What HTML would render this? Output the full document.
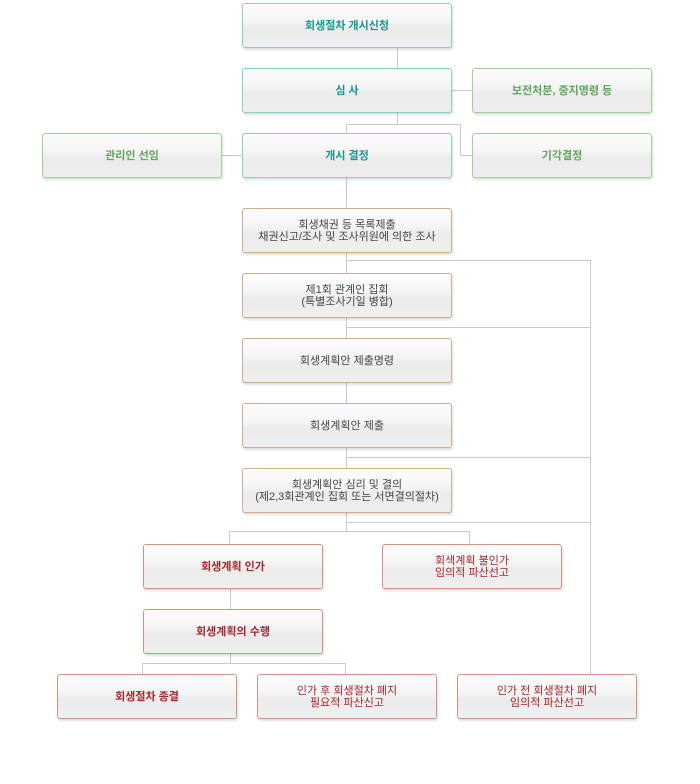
<!DOCTYPE html>
<html><head><meta charset="utf-8">
<style>
html,body{margin:0;padding:0;background:#fff;}
body{width:700px;height:784px;position:relative;overflow:hidden;font-family:"Liberation Sans","Noto Sans CJK KR","NanumGothic",sans-serif;}
.b{position:absolute;box-sizing:border-box;border:1px solid #ccc;border-radius:3px;
background:linear-gradient(#fcfcfc 0%,#f5f5f5 40%,#ebebeb 58%,#efefef 100%);
box-shadow:1px 2px 2px rgba(0,0,0,0.13);display:flex;align-items:center;justify-content:center;text-align:center;font-size:11px;line-height:12px;}
.t{border-color:#8fcdc2;color:#17988b;font-weight:bold;}
.g{border-color:#9dd098;color:#5ea65b;font-weight:bold;}
.n{border-color:#cfae88;color:#454545;}
.r{border-color:#d09484;color:#a5282c;}
.r.s{font-weight:bold;}
svg{position:absolute;left:0;top:0;}
</style></head><body>
<svg width="700" height="784">
<g stroke="#c9c9c9" stroke-width="1" fill="none" shape-rendering="crispEdges">
<line x1="397.5" y1="47" x2="397.5" y2="68"/>
<line x1="397.5" y1="112" x2="397.5" y2="124.5"/>
<line x1="346" y1="124.5" x2="461" y2="124.5"/>
<line x1="346.5" y1="124" x2="346.5" y2="133"/>
<line x1="460.5" y1="124" x2="460.5" y2="155.5"/>
<line x1="460" y1="155.5" x2="472" y2="155.5"/>
<line x1="451" y1="90.5" x2="472" y2="90.5"/>
<line x1="221" y1="155.5" x2="242" y2="155.5"/>
<line x1="346.5" y1="177" x2="346.5" y2="531"/>
<line x1="590.5" y1="260" x2="590.5" y2="674"/>
<line x1="346" y1="260.5" x2="591" y2="260.5"/>
<line x1="346" y1="327.5" x2="591" y2="327.5"/>
<line x1="346" y1="457.5" x2="591" y2="457.5"/>
<line x1="346" y1="522.5" x2="591" y2="522.5"/>
<line x1="229" y1="531.5" x2="470" y2="531.5"/>
<line x1="229.5" y1="531" x2="229.5" y2="544"/>
<line x1="469.5" y1="531" x2="469.5" y2="544"/>
<line x1="230.5" y1="588" x2="230.5" y2="609"/>
<line x1="230.5" y1="653" x2="230.5" y2="663.5"/>
<line x1="142" y1="663.5" x2="346" y2="663.5"/>
<line x1="142.5" y1="663" x2="142.5" y2="674"/>
<line x1="345.5" y1="663" x2="345.5" y2="674"/>
</g>
</svg>

<div class="b t" style="left:242px;top:3px;width:210px;height:45px;">회생절차 개시신청</div>
<div class="b t" style="left:242px;top:68px;width:210px;height:45px;">심 사</div>
<div class="b g" style="left:472px;top:68px;width:180px;height:45px;">보전처분, 중지명령 등</div>
<div class="b g" style="left:42px;top:133px;width:180px;height:45px;">관리인 선임</div>
<div class="b t" style="left:242px;top:133px;width:210px;height:45px;">개시 결정</div>
<div class="b g" style="left:472px;top:133px;width:180px;height:45px;">기각결정</div>

<div class="b n" style="left:242px;top:208px;width:210px;height:45px;">회생채권 등 목록제출<br>채권신고/조사 및 조사위원에 의한 조사</div>
<div class="b n" style="left:242px;top:273px;width:210px;height:45px;">제1회 관계인 집회<br>(특별조사기일 병합)</div>
<div class="b n" style="left:242px;top:338px;width:210px;height:45px;">회생계획안 제출명령</div>
<div class="b n" style="left:242px;top:403px;width:210px;height:45px;">회생계획안 제출</div>
<div class="b n" style="left:242px;top:468px;width:210px;height:45px;">회생계획안 심리 및 결의<br>(제2,3회관계인 집회 또는 서면결의절차)</div>

<div class="b r s" style="left:143px;top:544px;width:180px;height:45px;">회생계획 인가</div>
<div class="b r" style="left:382px;top:544px;width:180px;height:45px;">회색계획 불인가<br>임의적 파산선고</div>
<div class="b r s" style="left:143px;top:609px;width:180px;height:45px;">회생계획의 수행</div>
<div class="b r s" style="left:57px;top:674px;width:180px;height:45px;">회생절차 종결</div>
<div class="b r" style="left:257px;top:674px;width:180px;height:45px;">인가 후 회생절차 폐지<br>필요적 파산신고</div>
<div class="b r" style="left:457px;top:674px;width:180px;height:45px;">인가 전 회생절차 폐지<br>임의적 파산선고</div>
</body></html>
